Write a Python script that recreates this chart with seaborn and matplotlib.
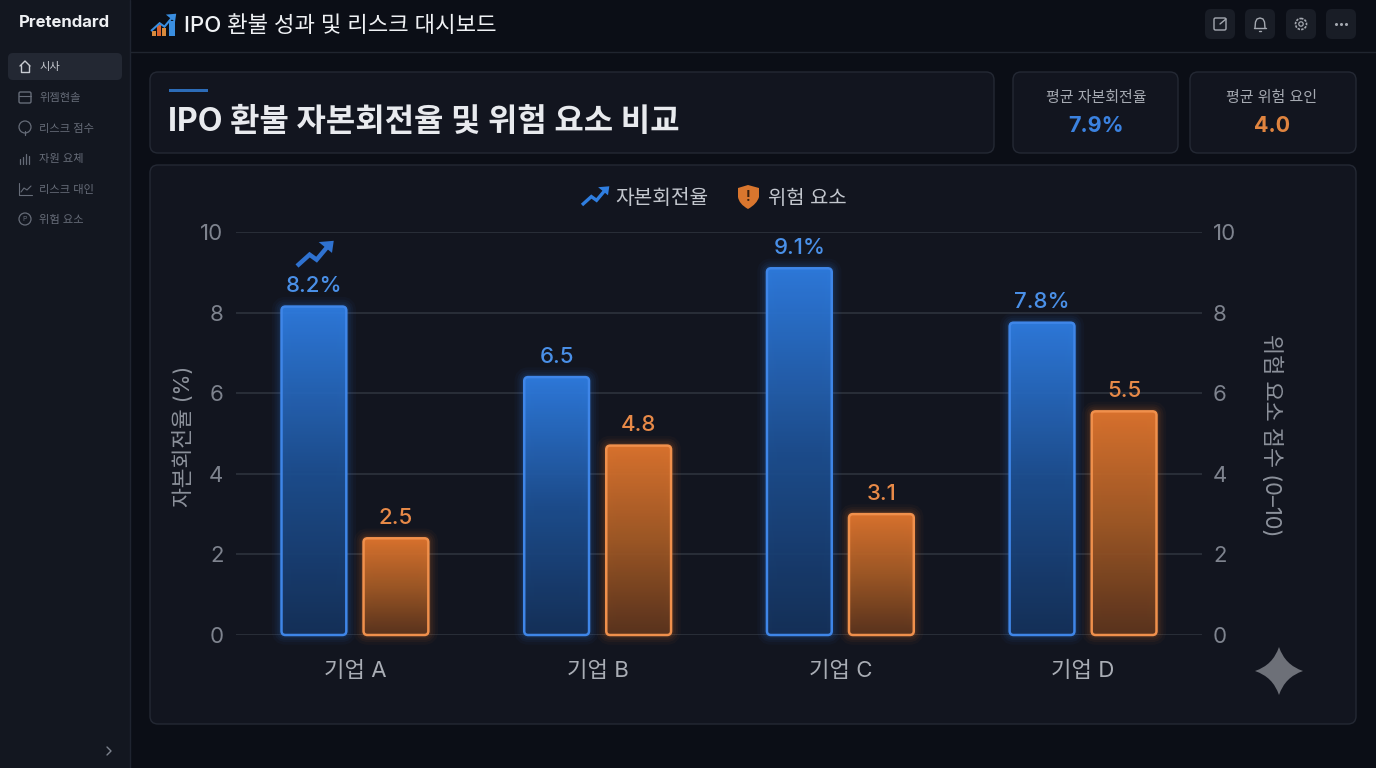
import numpy as np
import pandas as pd
import matplotlib
matplotlib.use("Agg")
import matplotlib.pyplot as plt
import seaborn as sns
from matplotlib.colors import LinearSegmentedColormap
from matplotlib.patches import FancyBboxPatch, Polygon, PathPatch, Circle, Rectangle
from matplotlib.path import Path

# chart values
companies = ["기업 A", "기업 B", "기업 C", "기업 D"]
rate_values = [8.15, 6.4, 9.1, 7.75]
risk_values = [2.4, 4.7, 3.0, 5.55]
rate_labels = ["8.2%", "6.5", "9.1%", "7.8%"]
risk_labels = ["2.5", "4.8", "3.1", "5.5"]
y_ticks = [0, 2, 4, 6, 8, 10]

# page text
menu_items = ["시사", "위젬현솔", "리스크 점수", "자원 요체", "리스크 대인", "위험 요소"]
series_names = ["자본회전율", "위험 요소"]

sns.set_theme(style="dark")
plt.rcParams["font.family"] = ["Inter", "Noto Sans CJK KR", "DejaVu Sans"]

BG = "#0b0e16"
SIDE = "#131720"
PANEL = "#12151f"
BORDER = "#242934"
BLUE = "#3b82e0"
ORANGE = "#e0843f"

W, H = 1376, 768
fig = plt.figure(figsize=(W / 100, H / 100), dpi=100, facecolor=BG)

# page layer, in pixels
bg = fig.add_axes([0, 0, 1, 1], zorder=0)
bg.set_xlim(0, W)
bg.set_ylim(H, 0)
bg.axis("off")


def card(x, y, w, h, face=PANEL, edge=BORDER, r=8, lw=1):
    bg.add_patch(FancyBboxPatch((x, y), w, h, boxstyle=f"round,pad=0,rounding_size={r}",
                                fc=face, ec=edge, lw=lw))


def trend_arrow(x, y, s, color, lw=3):
    # small rising arrow, x/y is the lower left corner
    pts = np.array([[0, 1], [0.36, 0.55], [0.56, 0.75], [0.88, 0.22]])
    bg.plot(x + pts[:, 0] * s, y + (pts[:, 1] - 1) * s * 0.72, color=color, lw=lw,
            solid_joinstyle="miter", solid_capstyle="butt")
    head = np.array([[0.62, 0.05], [1.05, 0.0], [1.0, 0.48]])
    bg.add_patch(Polygon(np.c_[x + head[:, 0] * s, y + (head[:, 1] - 1) * s * 0.72], fc=color, ec="none"))


bg.add_patch(Rectangle((0, 0), 130, H, fc=SIDE, ec="none"))
bg.plot([130, 130], [0, H], color="#1f2430", lw=1)
bg.plot([130, W], [51.5, 51.5], color="#20252f", lw=1)

# sidebar
bg.text(64.5, 22.5, "Pretendard", color="#eef0f3", fontsize=12, fontweight="bold", ha="center", va="center")
card(8, 53, 114, 27, face="#232833", edge="none", r=5)
menu_y = [67, 98, 129, 159, 190, 220]
for i, (label, yy) in enumerate(zip(menu_items, menu_y)):
    col = "#c9ccd2" if i == 0 else "#666c78"
    bg.text(39, yy, label, color=col, fontsize=8.1, va="center")
    if i == 0:
        bg.plot([20, 25, 30], [66, 61, 66], color=col, lw=1)
        bg.plot([21, 21, 29, 29], [65, 72, 72, 65], color=col, lw=1)
    elif i == 1:
        card(19, 92, 12, 11, face="none", edge=col, r=1.5)
        bg.plot([19, 31], [96, 96], color=col, lw=0.8)
    elif i == 2:
        bg.add_patch(Circle((25, 127), 6, fc="none", ec=col, lw=0.9))
        bg.plot([25, 25], [131, 135], color=col, lw=0.9)
    elif i == 3:
        for k, hh in enumerate([5, 7, 10, 8]):
            bg.plot([20 + k * 3] * 2, [164, 164 - hh], color=col, lw=0.9)
    elif i == 4:
        bg.plot([19, 19, 32], [183, 195, 195], color=col, lw=0.8)
        bg.plot([21, 24, 27, 31], [192, 188, 190, 186], color=col, lw=0.8)
    else:
        bg.add_patch(Circle((25, 219), 6, fc="none", ec=col, lw=0.9))
        bg.text(25, 219, "P", color=col, fontsize=5, ha="center", va="center")
bg.plot([107, 111, 107], [747, 751, 755], color="#7c828d", lw=1)

# header
for xx, hh, col in zip([152, 157, 162], [5, 11, 8], ["#d98a3c", "#d9622e", "#d98a3c"]):
    bg.add_patch(Rectangle((xx, 36 - hh), 3.5, hh, fc=col, ec="none"))
bg.add_patch(Rectangle((169, 21), 5.5, 15, fc="#3a8ee0", ec="none"))
trend_arrow(151, 31, 24, "#3a8ee0", lw=1.5)
bg.text(184, 25.5, "IPO 환불 성과 및 리스크 대시보드", color="#f0f2f5", fontsize=16,
        fontweight="medium", va="center")

# header buttons
icon = "#a4a8b0"
for xx in [1205, 1245, 1286, 1326]:
    card(xx, 9, 30, 30, face="#191d26", edge="none", r=6)
card(1214, 18, 12, 12, face="none", edge=icon, r=1.5)
bg.plot([1220, 1226], [24, 19], color=icon, lw=1)
bg.plot([1255, 1255.5, 1257, 1260, 1263, 1264.5, 1265], [28, 22, 19, 18, 19, 22, 28], color=icon, lw=1)
bg.plot([1254, 1266], [28, 28], color=icon, lw=1)
bg.plot([1259, 1261], [31, 31], color=icon, lw=1)
bg.add_patch(Circle((1301, 24), 5.5, fc="none", ec=icon, lw=1.2, ls=(0, (1.5, 0.7))))
bg.add_patch(Circle((1301, 24), 2.2, fc="none", ec=icon, lw=0.9))
bg.plot([1336, 1341, 1346], [24, 24, 24], ls="none", marker="o", ms=1.2, color=icon)

# top cards
card(150, 72, 844, 81)
bg.add_patch(Rectangle((169, 89), 39, 3, fc="#2c6cb8", ec="none"))
bg.text(168, 123, "IPO 환불 자본회전율 및 위험 요소 비교", color="#e8eaee", fontsize=23,
        fontweight="bold", va="center")
card(1013, 72, 165, 81)
bg.text(1096, 98, "평균 자본회전율", color="#a6aab2", fontsize=10.8, ha="center", va="center")
bg.text(1096, 126, "7.9%", color=BLUE, fontsize=15.5, fontweight="bold", ha="center", va="center")
card(1190, 72, 166, 81)
bg.text(1272, 98, "평균 위험 요인", color="#a6aab2", fontsize=10.8, ha="center", va="center")
bg.text(1272, 126, "4.0", color=ORANGE, fontsize=15.5, fontweight="bold", ha="center", va="center")

# chart panel
card(150, 165, 1206, 559)

# legend
trend_arrow(582, 205, 26, "#2f7ee0", lw=2.4)
bg.text(615, 199, series_names[0], color="#c3c7ce", fontsize=14.6, va="center")
shield = Path([(738, 188), (748, 185), (759, 188), (759, 197), (757, 204), (748, 209), (739, 204), (738, 197), (738, 188)],
              [Path.MOVETO, Path.LINETO, Path.LINETO, Path.LINETO, Path.CURVE3, Path.CURVE3, Path.CURVE3, Path.CURVE3, Path.LINETO])
bg.add_patch(PathPatch(shield, fc="#d9762e", ec="none"))
bg.text(748, 197, "!", color="#3a2010", fontsize=10, fontweight="bold", ha="center", va="center")
bg.text(768, 199, series_names[1], color="#c3c7ce", fontsize=14.3, va="center")

# sparkle bottom right
cx, cy = 1279, 671
star = Path([(cx, cy - 24), (cx + 6, cy - 6), (cx + 24, cy), (cx + 6, cy + 6), (cx, cy + 24),
             (cx - 6, cy + 6), (cx - 24, cy), (cx - 6, cy - 6), (cx, cy - 24)],
            [Path.MOVETO, Path.CURVE3, Path.CURVE3, Path.CURVE3, Path.CURVE3, Path.CURVE3, Path.CURVE3, Path.CURVE3, Path.CURVE3])
bg.add_patch(PathPatch(star, fc="#6d7078", ec="none"))

# bars
df = pd.DataFrame({
    "company": companies * 2,
    "value": rate_values + risk_values,
    "series": [series_names[0]] * 4 + [series_names[1]] * 4,
})

left, right, top, bottom = 236, 1202, 232, 635
ax = fig.add_axes([left / W, 1 - bottom / H, (right - left) / W, (bottom - top) / H], zorder=1)
ax.patch.set_alpha(0)
sns.barplot(data=df, x="company", y="value", hue="series", order=companies, hue_order=series_names,
            palette=[BLUE, ORANGE], width=0.676, gap=0.21, legend=False, errorbar=None, ax=ax)

xlim = (-0.49, 3.49)
ylim = (0, 10)
px_x = (right - left) / (xlim[1] - xlim[0])
px_y = (bottom - top) / (ylim[1] - ylim[0])
aspect = px_x / px_y

blue_cmap = LinearSegmentedColormap.from_list("b", ["#15315a", "#1d4f91", "#2f7de2"])
orange_cmap = LinearSegmentedColormap.from_list("o", ["#5c341d", "#a35a26", "#e2762e"])
styles = [(blue_cmap, "#3f86e8", "#2f7de8"), (orange_cmap, "#f0904c", "#ee7a2c")]
grad = np.linspace(1, 0, 256).reshape(-1, 1)

labels = rate_labels + risk_labels
text_cols = ["#4a90e8"] * 4 + ["#e88a48"] * 4
for i, bar in enumerate(ax.patches):
    x, w, h = bar.get_x(), bar.get_width(), bar.get_height()
    cmap, edge, glow = styles[0] if i < 4 else styles[1]
    bar.set_facecolor("none")
    bar.set_linewidth(0)

    def shape(**kw):
        return FancyBboxPatch((x, 0), w, h, boxstyle=f"round,pad=0,rounding_size={4 / px_x}",
                              mutation_aspect=aspect, clip_on=False, **kw)

    for lw, a in [(14, 0.035), (10, 0.05), (7, 0.06), (4, 0.09)]:
        ax.add_patch(shape(fc="none", ec=glow, lw=lw, alpha=a, zorder=3))
    clip = shape(fc="none", ec="none", zorder=3)
    ax.add_patch(clip)
    im = ax.imshow(grad, extent=[x, x + w, 0, h], aspect="auto", cmap=cmap, vmin=0, vmax=1, alpha=0.95, zorder=3.5)
    im.set_clip_path(clip)
    ax.add_patch(shape(fc="none", ec=edge, lw=1.8, zorder=4))
    ax.text(x + w / 2, h + 20.5 / px_y, labels[i], color=text_cols[i], fontsize=16, fontweight="medium",
            ha="center", va="center", zorder=5)

ax.set_xlim(*xlim)
ax.set_ylim(*ylim)
ax.set_yticks(y_ticks)
ax.set_axisbelow(True)
ax.grid(axis="y", color="#2d323c", lw=1.2)
ax.grid(axis="x", visible=False)
sns.despine(ax=ax, left=True, bottom=True)
ax.tick_params(axis="x", length=0, pad=19, labelsize=16, labelcolor="#a9adb5")
ax.tick_params(axis="y", length=0, pad=9, labelsize=16, labelcolor="#7e838e")
ax.set_xlabel("")
ax.set_ylabel("자본회전율 (%)", color="#8c919b", fontsize=15.5)
ax.yaxis.set_label_coords((194 - left) / (right - left), (bottom - 436) / (bottom - top))

# second scale on the right
ax2 = ax.twinx()
ax2.set_ylim(*ylim)
ax2.set_yticks(y_ticks)
ax2.grid(False)
sns.despine(ax=ax2, left=True, bottom=True, right=True)
ax2.tick_params(axis="y", length=0, pad=8, labelsize=16, labelcolor="#7e838e")
ax2.set_ylabel("위험 요소 점수 (0–10)", color="#8c919b", fontsize=15.8, rotation=-90)
ax2.yaxis.set_label_coords((1282 - left) / (right - left), (bottom - 435) / (bottom - top))

# arrow above the first bar
trend_arrow(297, 266, 35, "#2f72d0", lw=3.2)

fig.savefig("out.png", dpi=100, facecolor=BG)
